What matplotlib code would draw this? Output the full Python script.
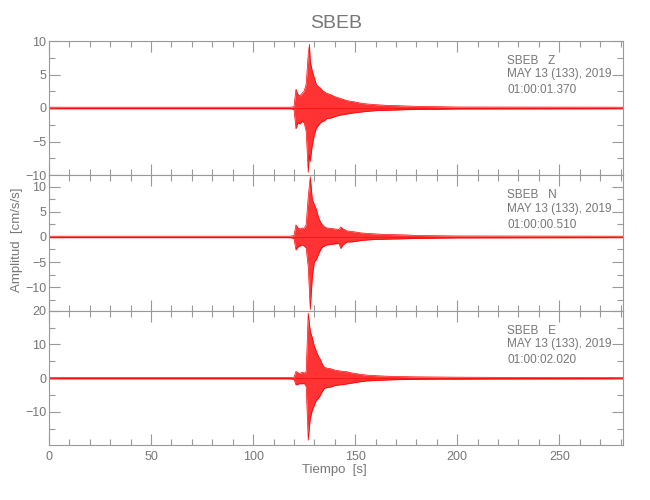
import numpy as np
import matplotlib.pyplot as plt
from matplotlib.ticker import MultipleLocator

plt.rcParams['font.family'] = ['Liberation Sans', 'DejaVu Sans']

station = "SBEB"
channels = ["Z", "N", "E"]
date_str = "MAY 13 (133), 2019"
start_times = ["01:00:01.370", "01:00:00.510", "01:00:02.020"]

# envelope of each trace (seconds, upper, lower)
t_z = [0, 118, 119, 120, 121, 122, 123, 124, 125, 126, 127, 127.6, 128, 129, 130,
       131, 132, 133, 134, 135, 136, 138, 140, 142, 144, 146, 148, 150, 153, 156,
       160, 165, 170, 175, 180, 190, 200, 281.2]
up_z = [0.12, 0.12, 0.15, 0.2, 2.8, 2.0, 1.8, 2.2, 2.5, 3.6, 8.0, 9.5, 7.0, 5.5, 4.5,
        3.5, 3.2, 3.0, 2.6, 2.4, 2.2, 2.0, 1.7, 1.5, 1.3, 1.1, 1.0, 0.9, 0.7, 0.6,
        0.5, 0.4, 0.35, 0.3, 0.25, 0.2, 0.15, 0.12]
lo_z = [-0.12, -0.12, -0.15, -0.2, -3.1, -2.2, -2.4, -2.0, -2.2, -3.5, -9.6, -7.0, -8.0, -5.5, -4.0,
        -3.0, -2.6, -2.2, -2.0, -1.9, -1.6, -1.5, -1.3, -1.1, -1.0, -0.9, -0.8, -0.7, -0.6, -0.5,
        -0.4, -0.35, -0.3, -0.25, -0.2, -0.2, -0.15, -0.12]

t_n = [0, 118, 119, 120, 121, 122, 123, 124, 125, 126, 127, 128, 129, 130, 131,
       132, 133, 134, 135, 136, 138, 140, 142, 143, 144, 146, 148, 150, 153, 156,
       160, 165, 170, 175, 180, 190, 200, 281.2]
up_n = [0.15, 0.15, 0.2, 0.3, 2.4, 1.8, 1.6, 1.8, 1.7, 2.5, 8.0, 12.0, 7.5, 6.5, 5.5,
        4.0, 3.0, 2.4, 2.0, 1.8, 1.7, 1.6, 1.5, 2.0, 1.6, 1.2, 1.1, 1.0, 0.8, 0.7,
        0.6, 0.5, 0.45, 0.4, 0.3, 0.25, 0.2, 0.15]
lo_n = [-0.15, -0.15, -0.2, -0.3, -2.6, -2.0, -1.8, -1.6, -1.8, -2.2, -6.0, -14.5, -8.0, -5.0, -4.5,
        -3.5, -2.6, -2.0, -1.8, -1.6, -1.5, -1.4, -1.3, -2.3, -1.6, -1.0, -1.0, -0.9, -0.7, -0.6,
        -0.5, -0.45, -0.4, -0.35, -0.3, -0.25, -0.2, -0.15]

t_e = [0, 118, 119, 120, 121, 122, 123, 124, 125, 126, 127, 128, 129, 130, 131,
       132, 133, 134, 135, 136, 138, 140, 142, 144, 146, 148, 150, 153, 156, 160,
       165, 170, 175, 180, 190, 200, 220, 281.2]
up_e = [0.2, 0.2, 0.25, 0.3, 2.0, 1.6, 1.4, 1.8, 1.5, 2.0, 19.3, 14.0, 12.0, 9.5, 8.0,
        6.5, 5.5, 4.0, 3.2, 3.0, 2.8, 2.4, 2.2, 2.0, 1.9, 1.6, 1.4, 1.1, 0.9, 0.75,
        0.6, 0.5, 0.45, 0.4, 0.35, 0.3, 0.25, 0.2]
lo_e = [-0.2, -0.2, -0.25, -0.3, -2.0, -1.8, -1.6, -1.7, -1.5, -2.5, -18.4, -12.0, -9.5, -8.0, -6.5,
        -6.0, -5.0, -3.8, -3.0, -2.8, -2.6, -2.2, -2.0, -1.9, -1.7, -1.5, -1.3, -1.0, -0.8, -0.7,
        -0.55, -0.45, -0.4, -0.35, -0.3, -0.3, -0.25, -0.2]

traces = [(t_z, up_z, lo_z), (t_n, up_n, lo_n), (t_e, up_e, lo_e)]
ylims = [(-10, 10), (-14.7, 12.35), (-19.8, 20)]
ymajor = [5, 5, 10]
yminor = [2.5, 2.5, 5]
xmax = 281.2

axcol = '#999999'
txtcol = '#777777'

fig = plt.figure(figsize=(6.5, 5), dpi=100)
boxes = [[0.0754, 0.65, 0.883, 0.268],
         [0.0754, 0.3786, 0.883, 0.2714],
         [0.0754, 0.11, 0.883, 0.2686]]

for i, box in enumerate(boxes):
    ax = fig.add_axes(box)
    t, up, lo = traces[i]
    ax.fill_between(t, lo, up, color='red', alpha=0.8, lw=0)
    ax.plot(t, up, color='red', lw=0.5)
    ax.plot(t, lo, color='red', lw=0.5)
    ax.plot([0, xmax], [0, 0], color='red', lw=0.4)
    ax.set_xlim(0, xmax)
    ax.set_ylim(*ylims[i])
    ax.xaxis.set_major_locator(MultipleLocator(50))
    ax.xaxis.set_minor_locator(MultipleLocator(10))
    ax.yaxis.set_major_locator(MultipleLocator(ymajor[i]))
    ax.yaxis.set_minor_locator(MultipleLocator(yminor[i]))
    ax.tick_params(which='both', direction='in', top=True, right=True,
                   color=axcol, labelcolor=txtcol, labelsize=9, width=0.8)
    ax.tick_params(which='major', length=8, pad=2)
    ax.tick_params(which='minor', length=4)
    ax.tick_params(axis='x', pad=4)
    if i < 2:
        ax.tick_params(axis='x', labelbottom=False)
    for s in ax.spines.values():
        s.set_color(axcol)
        s.set_linewidth(0.8)
    # station / date / start time block
    ax.text(0.798, 0.849, station + "   " + channels[i], transform=ax.transAxes,
            va='center', ha='left', fontsize=8.5, color=txtcol)
    ax.text(0.798, 0.751, date_str, transform=ax.transAxes,
            va='center', ha='left', fontsize=8.5, color=txtcol)
    ax.text(0.798, 0.634, start_times[i], transform=ax.transAxes,
            va='center', ha='left', fontsize=8.5, color=txtcol)

fig.text(0.517, 0.954, station, ha='center', va='center', fontsize=14, color=txtcol)
fig.text(0.514, 0.06, "Tiempo  [s]", ha='center', va='center', fontsize=9.5, color=txtcol)
fig.text(0.026, 0.52, "Amplitud  [cm/s/s]", ha='center', va='center', rotation=90,
         fontsize=9.5, color=txtcol)

plt.savefig('out.png', dpi=100)
